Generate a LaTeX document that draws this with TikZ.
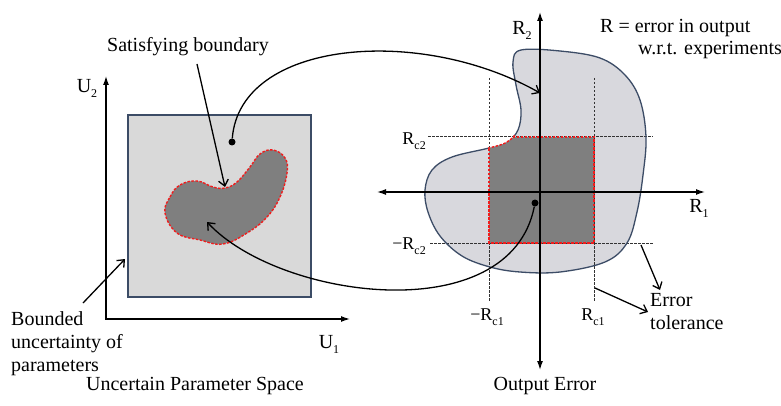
\documentclass[tikz,border=0pt]{standalone}
\usepackage{fontspec}
\setmainfont{Liberation Serif}
\usetikzlibrary{arrows.meta}
\newcommand{\lsub}[1]{\raisebox{-0.55ex}{\fontsize{12}{12}\selectfont #1}}
\definecolor{lightfill}{HTML}{D9D9D9}
\definecolor{blobfill}{HTML}{D8D8DD}
\definecolor{darkfill}{HTML}{7F7F7F}
\definecolor{edgeblue}{HTML}{3C4C66}
\definecolor{dashred}{HTML}{F21C1C}
\def\rblob{plot[smooth cycle, tension=0.6] coordinates {(513,62) (521,50) (560,51) (600,58) (625,75) (640,100) (646,137) (643,175) (637,212) (627,243) (605,262) (560,272) (520,272) (490,267) (462,256) (440,236) (428,212) (425,190) (432,170) (452,157) (489,148) (507,142) (518,130) (521,110) (516,85)}}
\begin{document}
\begin{tikzpicture}[x=1pt,y=-1pt,
 lbl/.style={font=\fontsize{20}{23}\selectfont, inner sep=0pt},
 small/.style={font=\fontsize{18}{20}\selectfont, inner sep=0pt},
 axisline/.style={line width=1.3pt},
 pointer/.style={line width=1.3pt, -{Straight Barb[length=6pt,width=10pt]}},
 tol/.style={dash pattern=on 2.5pt off 1.5pt, line width=1pt, black!80},
 redb/.style={draw=dashred, dash pattern=on 2.5pt off 1.5pt, line width=1.4pt},
 dotst/.style={circle, fill=black, inner sep=0pt, minimum size=7pt},
]
\useasboundingbox (0,0) rectangle (781,406);

% ---------- left panel ----------
\fill[lightfill] (128,115) rectangle (311,297);
\draw[edgeblue, line width=1.1pt] (128,115) rectangle (311,297);
\path[redb, fill=darkfill] plot[smooth cycle, tension=0.7] coordinates {(165,213) (170,197) (180,185) (197,181) (213,187) (225,188) (237,182) (250,167) (260,154) (273,150) (285,158) (287,173) (280,197) (267,217) (247,233) (223,244) (200,240) (177,233)};

\coordinate (u2tip) at (106,76);
\coordinate (origin) at (106,319);
\coordinate (u1tip) at (350,319);
\draw[axisline, {Latex[length=9pt,width=6pt]}-{Latex[length=9pt,width=6pt]}] (u2tip) -- (origin) -- (u1tip);

\node[lbl] (u2) at (87,88) {U\lsub{2}};
\node[lbl] (u1) at (329,344) {U\lsub{1}};
\node[lbl] (sat) at (188,47) {Satisfying boundary};
\node[lbl, align=left, anchor=north west] (bnd) at (11,311) {Bounded\\uncertainty of\\parameters};
\node[lbl] (lt) at (195,386) {Uncertain Parameter Space};

\node[dotst] (ldot) at (232,142) {};
\coordinate (notch) at (225,187);
\coordinate (satstart) at (197,64);
\coordinate (bndstart) at (83,303);
\coordinate (boxedge) at (125,259);
\coordinate (blobin) at (207,222);

% ---------- right panel ----------
\fill[blobfill] \rblob;
\coordinate (va) at (489,78);
\coordinate (vb) at (489,302);
\coordinate (vc) at (594,78);
\coordinate (vd) at (594,302);
\coordinate (ha) at (428,137);
\coordinate (hb) at (653,137);
\coordinate (hc) at (430,243);
\coordinate (hd) at (653,243);
\draw[tol] (va) -- (vb);
\draw[tol] (vc) -- (vd);
\draw[tol] (ha) -- (hb);
\draw[tol] (hc) -- (hd);
\begin{scope}
  \clip \rblob;
  \fill[darkfill] (489,137) rectangle (594,243);
\end{scope}
\begin{scope}[even odd rule]
  \clip (0,0) rectangle (781,406) (489,137) rectangle (594,243);
  \draw[edgeblue, line width=1.3pt] \rblob;
\end{scope}
\begin{scope}
  \clip \rblob;
  \draw[redb, line width=2.2pt] (489,137) rectangle (594,243);
\end{scope}
\begin{scope}
  \clip (488,136) rectangle (595,244);
  \draw[redb] \rblob;
\end{scope}

\coordinate (r1l) at (377,192);
\coordinate (r1r) at (705,192);
\coordinate (r2t) at (540,12);
\coordinate (r2b) at (540,370);
\draw[axisline, {Latex[length=9pt,width=6pt]}-{Latex[length=9pt,width=6pt]}] (r1l) -- (r1r);
\draw[axisline, {Latex[length=9pt,width=6pt]}-{Latex[length=9pt,width=6pt]}] (r2t) -- (r2b);

\node[lbl] (r2) at (522,30) {R\lsub{2}};
\node[lbl] (r1) at (699,208) {R\lsub{1}};
\node[small, anchor=east] (rc2) at (426,141) {R\lsub{c2}};
\node[small, anchor=east] (mrc2) at (426,246) {−R\lsub{c2}};
\node[small] (mrc1) at (487,317) {−R\lsub{c1}};
\node[small] (rc1) at (593,317) {R\lsub{c1}};
\node[lbl, anchor=base west] (rdef1) at (600,33) {R = error in output};
\node[lbl, anchor=base west] (rdef2) at (638,55) {w.r.t. experiments};
\node[lbl, align=left, anchor=north west] (errtol) at (650,293) {Error\\tolerance};
\node[lbl] (rt) at (545,386) {Output Error};

\node[dotst] (rdot) at (535,203) {};
\coordinate (r2hit) at (540,93);
\coordinate (tolA) at (641,245);
\coordinate (tolAend) at (660,290);
\coordinate (tolB) at (595,288);
\coordinate (tolBend) at (648,312);

% ---------- connectors ----------
\draw[pointer] (satstart) -- (notch);
\draw[pointer] (bndstart) -- (boxedge);
\draw[pointer] (ldot) .. controls (240,40) and (420,25) .. (r2hit);
\draw[pointer] (rdot) .. controls (510,330) and (280,300) .. (blobin);
\draw[pointer] (tolA) -- (tolAend);
\draw[pointer] (tolB) -- (tolBend);
\end{tikzpicture}
\end{document}
